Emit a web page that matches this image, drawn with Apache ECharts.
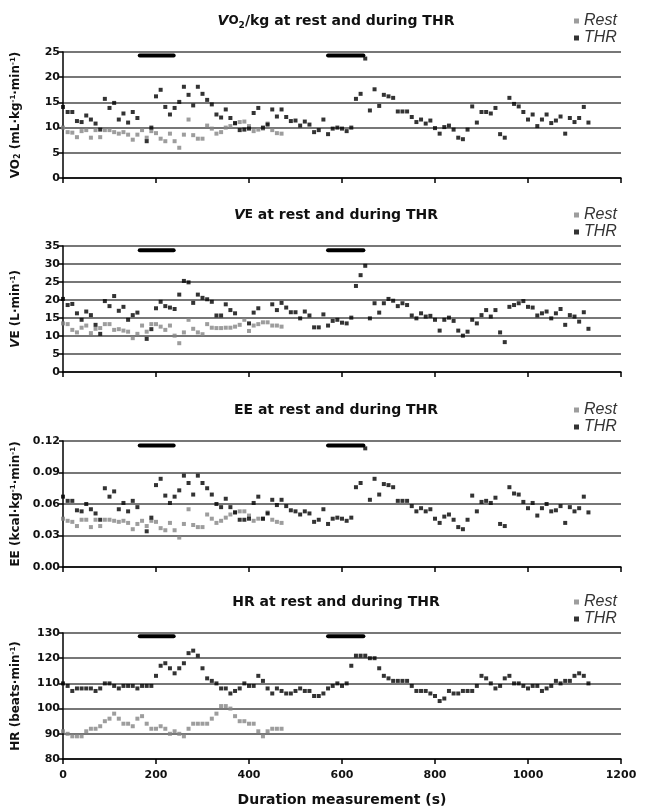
<!DOCTYPE html>
<html>
<head>
<meta charset="utf-8">
<title>VO2, VE, EE, HR at rest and during THR</title>
<script src="https://cdn.jsdelivr.net/npm/echarts@6/dist/echarts.min.js"></script>
<style>
  html, body { margin: 0; padding: 0; background: #fff; }
  #chart { width: 656px; height: 810px; }
</style>
</head>
<body>
<div id="chart"></div>
<script>
// sampling times (s)
var timesThr = [
  0,10,20,30,40,50,60,70,80,90,
  100,110,120,130,140,150,160,170,180,190,
  200,210,220,230,240,250,260,270,280,290,
  300,310,320,330,340,350,360,370,380,390,
  400,410,420,430,440,450,460,470,480,490,
  500,510,520,530,540,550,560,570,580,590,
  600,610,620,630,640,650,660,670,680,690,
  700,710,720,730,740,750,760,770,780,790,
  800,810,820,830,840,850,860,870,880,890,
  900,910,920,930,940,950,960,970,980,990,
  1000,1010,1020,1030,1040,1050,1060,1070,1080,1090,
  1100,1110,1120,1130
];
var timesRest = timesThr.slice(0, 48);

// black bars at the top: THR periods
var thrPeriods = [[165, 238], [570, 646]];

// VO2/kg (mL·kg-1·min-1)
var vo2Thr = [
  14.1,13.1,13.1,11.3,11.1,12.4,11.6,10.8,9.6,15.7,
  13.9,14.9,11.6,12.8,11.0,13.1,11.9,null,7.3,10.0,
  16.2,17.5,14.1,12.6,13.9,15.1,18.1,16.5,14.4,18.1,
  16.7,15.5,14.6,12.6,12.0,13.6,11.9,10.9,9.5,9.6,
  9.8,12.9,13.9,10.0,10.6,13.6,12.2,13.6,12.1,11.3,
  11.4,10.4,11.2,10.6,9.1,9.5,11.6,8.7,9.8,10.0,
  9.8,9.3,10.0,15.7,16.7,23.7,13.4,17.6,14.3,16.5,
  16.2,15.9,13.2,13.2,13.2,12.1,11.1,11.6,10.8,11.4,
  9.9,8.8,10.1,10.4,9.6,8.0,7.7,9.6,14.2,11.0,
  13.1,13.1,12.8,13.9,8.7,8.0,15.9,14.7,14.2,13.1,
  11.6,12.6,10.3,11.6,12.6,10.9,11.4,12.2,8.8,11.9,
  11.1,11.9,14.1,11.0
];
var vo2Rest = [
  10.0,9.1,9.0,8.1,9.3,9.5,8.0,9.5,8.1,9.5,
  9.5,9.1,8.8,9.1,8.6,7.6,8.6,9.5,8.0,9.3,
  8.9,7.8,7.3,8.8,7.3,6.0,8.6,11.6,8.5,7.8,
  7.8,10.4,9.8,8.8,9.1,10.0,10.3,10.8,11.1,11.2,
  10.3,9.3,9.6,9.8,10.8,9.5,8.9,8.8
];

// VE (L·min-1)
var veThr = [
  20.3,18.6,18.9,16.3,14.5,16.8,15.8,13.1,10.6,19.7,
  18.3,21.1,17.0,18.1,14.5,15.8,16.5,null,9.2,11.9,
  17.7,19.5,18.3,17.9,17.5,21.5,25.3,24.9,19.2,21.5,
  20.6,20.2,19.5,15.7,15.7,18.8,17.2,16.3,null,null,
  13.5,16.5,17.7,null,null,18.8,17.2,19.2,17.9,16.6,
  16.6,14.9,16.8,15.7,12.4,12.4,16.0,12.9,14.2,14.5,
  13.7,13.5,15.1,23.9,26.9,29.5,14.9,19.1,16.5,19.1,
  20.3,19.8,18.3,19.1,18.6,15.7,14.9,16.3,15.4,15.6,
  14.5,11.5,14.5,15.1,14.2,11.5,10.1,11.2,14.5,13.5,
  15.8,17.2,15.4,17.2,11.0,8.3,18.1,18.6,19.1,19.7,
  18.1,17.9,15.7,16.3,16.8,14.9,16.3,17.5,13.1,15.8,
  15.4,14.0,16.6,12.0
];
var veRest = [
  13.5,13.3,11.7,11.0,12.3,12.9,10.8,12.0,12.2,13.3,
  13.3,11.7,11.9,11.5,11.2,9.4,10.6,12.9,11.2,13.3,
  13.3,12.6,11.7,12.9,10.1,8.0,11.0,14.5,12.0,11.0,
  10.5,13.3,12.3,12.2,12.2,12.3,12.3,12.6,13.1,14.5,
  11.4,12.9,13.3,13.8,13.8,12.9,12.9,12.6
];

// EE (kcal·kg-1·min-1)
var eeThr = [
  0.067,0.063,0.063,0.054,0.053,0.060,0.055,0.051,0.045,0.075,
  0.067,0.072,0.055,0.061,0.053,0.063,0.057,null,0.034,0.047,
  0.078,0.084,0.068,0.061,0.067,0.073,0.087,0.080,0.069,0.087,
  0.080,0.075,0.069,0.060,0.057,0.065,0.057,0.052,0.045,0.045,
  0.046,0.061,0.067,0.046,0.051,0.064,0.059,0.064,0.058,0.054,
  0.053,0.050,0.053,0.051,0.043,0.045,0.055,0.041,0.046,0.047,
  0.046,0.044,0.047,0.076,0.080,0.113,0.064,0.084,0.069,0.079,
  0.078,0.076,0.063,0.063,0.063,0.058,0.053,0.056,0.053,0.055,
  0.046,0.042,0.048,0.050,0.045,0.038,0.036,0.045,0.068,0.053,
  0.062,0.063,0.061,0.066,0.041,0.039,0.076,0.070,0.069,0.062,
  0.056,0.061,0.049,0.056,0.060,0.053,0.054,0.058,0.042,0.057,
  0.053,0.056,0.067,0.052
];
var eeRest = [
  0.046,0.044,0.043,0.039,0.045,0.045,0.038,0.045,0.039,0.045,
  0.045,0.044,0.043,0.044,0.042,0.036,0.041,0.044,0.039,0.044,
  0.043,0.037,0.035,0.042,0.035,0.028,0.041,0.055,0.040,0.038,
  0.038,0.050,0.046,0.042,0.044,0.047,0.050,0.052,0.053,0.053,
  0.049,0.044,0.046,0.046,0.052,0.045,0.043,0.042
];

// HR (beats·min-1)
var hrThr = [
  110,109,107,108,108,108,108,107,108,110,
  110,109,108,109,109,109,108,109,109,109,
  113,117,118,116,114,116,118,122,123,121,
  116,112,111,110,108,108,106,107,108,110,
  109,109,113,111,108,106,108,107,106,106,
  107,108,107,107,105,105,106,108,109,110,
  109,110,117,121,121,121,120,120,116,113,
  112,111,111,111,111,109,107,107,107,106,
  105,103,104,107,106,106,107,107,107,109,
  113,112,110,108,109,112,113,110,110,109,
  108,109,109,107,108,109,111,110,111,111,
  113,114,113,110
];
var hrRest = [
  91,90,89,89,89,91,92,92,93,95,
  96,98,96,94,94,93,96,97,94,92,
  92,93,92,90,91,90,89,92,94,94,
  94,94,96,98,101,101,100,97,95,95,
  94,94,91,89,91,92,92,92
];

var FONT = '"DejaVu Sans", sans-serif';
var LEG_FONT = '"Liberation Sans", Arial, sans-serif';
var INK = '#111';

var panels = [
  { title: '{it|V}{sm|O}{sub|2}/kg at rest and during THR',
    yName: 'VO{sub|2} (mL·kg{sup|-1}·min{sup|-1})',
    min: 0, max: 25, step: 5, bar: 24.3, dec: 0, rest: vo2Rest, thr: vo2Thr },
  { title: '{it|V}{sm|E} at rest and during THR',
    yName: '{it|V}E (L·min{sup|-1})',
    min: 0, max: 35, step: 5, bar: 33.8, dec: 0, rest: veRest, thr: veThr },
  { title: 'EE at rest and during THR',
    yName: 'EE (kcal·kg{sup|-1}·min{sup|-1})',
    min: 0, max: 0.12, step: 0.03, bar: 0.1158, dec: 2, rest: eeRest, thr: eeThr },
  { title: 'HR at rest and during THR',
    yName: 'HR (beats·min{sup|-1})',
    min: 80, max: 130, step: 10, bar: 128.7, dec: 0, rest: hrRest, thr: hrThr }
];

var tops = [52, 246, 441, 633];
var titleRich = {
  it: { fontStyle: 'italic', fontWeight: 'bold', fontSize: 14, fontFamily: FONT, color: INK },
  sm: { fontWeight: 'bold', fontSize: 12, fontFamily: FONT, color: INK },
  sub: { fontWeight: 'bold', fontSize: 9, fontFamily: FONT, verticalAlign: 'bottom', color: INK }
};
var axisRich = {
  it: { fontStyle: 'italic', fontWeight: 'bold', fontSize: 12, fontFamily: FONT, color: INK },
  sub: { fontWeight: 'bold', fontSize: 8, fontFamily: FONT, verticalAlign: 'bottom', color: INK },
  sup: { fontWeight: 'bold', fontSize: 7, fontFamily: FONT, verticalAlign: 'top', color: INK }
};

function pts(ts, vs) {
  var out = [];
  for (var i = 0; i < vs.length; i++) {
    if (vs[i] != null) out.push([ts[i], vs[i]]);
  }
  return out;
}

var grid = [], xAxis = [], yAxis = [], title = [], legend = [], series = [];

panels.forEach(function (p, k) {
  var last = k === panels.length - 1;
  grid.push({ left: 63, right: 35, top: tops[k], height: 126 });
  title.push({
    text: p.title, left: 336, top: tops[k] - 40, textAlign: 'center', padding: 0,
    textStyle: { fontSize: 14, lineHeight: 18, fontWeight: 'bold', fontFamily: FONT, color: INK, rich: titleRich }
  });
  legend.push({
    data: ['Rest', 'THR'], orient: 'vertical', left: 574, top: tops[k] - 39, padding: 0,
    icon: 'rect', itemWidth: 5, itemHeight: 5, itemGap: 1, selectedMode: false,
    textStyle: { fontStyle: 'italic', fontSize: 16, lineHeight: 16, fontFamily: LEG_FONT, color: '#333' }
  });
  xAxis.push({
    gridIndex: k, type: 'value', min: 0, max: 1200, interval: 200,
    axisLine: { lineStyle: { color: '#000', width: 1.5 } },
    axisTick: { show: true, length: 5, lineStyle: { color: '#000', width: 1.5 } },
    axisLabel: {
      show: last, fontSize: 11, fontWeight: 'bold', fontFamily: FONT, color: INK, margin: 11,
      formatter: function (v) { return String(v); }
    },
    splitLine: { show: false },
    name: last ? 'Duration measurement (s)' : '',
    nameLocation: 'middle', nameGap: 34,
    nameTextStyle: { fontSize: 14, fontWeight: 'bold', fontFamily: FONT, color: INK }
  });
  yAxis.push({
    gridIndex: k, type: 'value', min: p.min, max: p.max, interval: p.step,
    name: p.yName, nameLocation: 'middle', nameGap: 41,
    nameTextStyle: { fontSize: 12, fontWeight: 'bold', fontFamily: FONT, color: INK, rich: axisRich },
    axisLine: { show: true, lineStyle: { color: '#000', width: 1.5 } },
    axisTick: { show: true, length: 4, lineStyle: { color: '#000', width: 1.5 } },
    axisLabel: {
      fontSize: 11, fontWeight: 'bold', fontFamily: FONT, color: INK, margin: 3,
      formatter: function (v) { return v.toFixed(p.dec); }
    },
    splitLine: { show: true, lineStyle: { color: '#4a4a4a', width: 1.5 } }
  });
  series.push({
    name: 'Rest', type: 'scatter', xAxisIndex: k, yAxisIndex: k,
    symbol: 'rect', symbolSize: 4, itemStyle: { color: '#858585' },
    data: pts(timesRest, p.rest), z: 3
  });
  series.push({
    name: 'THR', type: 'scatter', xAxisIndex: k, yAxisIndex: k,
    symbol: 'rect', symbolSize: 4, itemStyle: { color: '#000' },
    data: pts(timesThr, p.thr), z: 4
  });
  thrPeriods.forEach(function (per) {
    series.push({
      name: 'period', type: 'line', xAxisIndex: k, yAxisIndex: k,
      showSymbol: false, symbol: 'none', silent: true,
      lineStyle: { color: '#000', width: 4, cap: 'round' },
      data: [[per[0], p.bar], [per[1], p.bar]], z: 5
    });
  });
});

var myChart = echarts.init(document.getElementById('chart'));
myChart.setOption({
  animation: false,
  backgroundColor: '#fff',
  grid: grid, xAxis: xAxis, yAxis: yAxis,
  title: title, legend: legend, series: series
});
</script>
</body>
</html>
